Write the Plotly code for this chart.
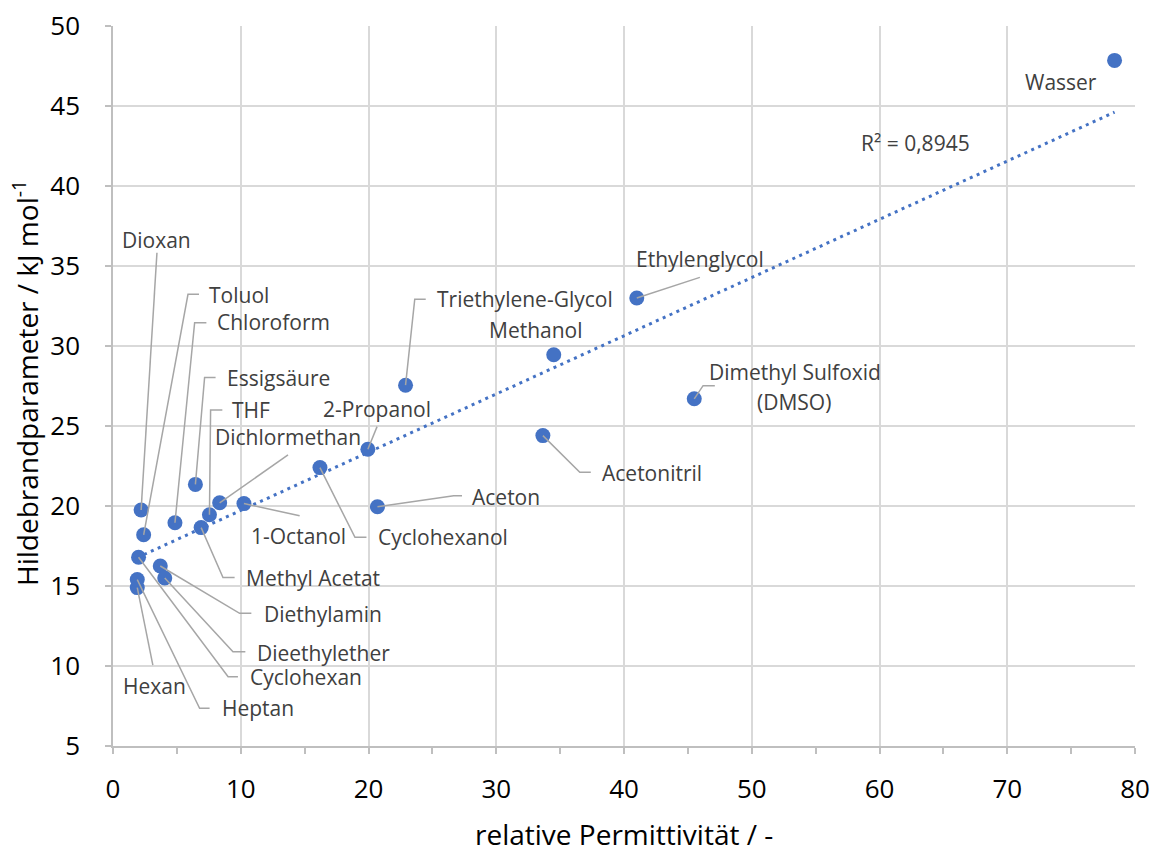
import numpy as np
import plotly.graph_objects as go

# ---- data ----
solvents = ["Dioxan", "Toluol", "Chloroform", "Essigsäure", "THF", "Dichlormethan",
            "1-Octanol", "Methyl Acetat", "Diethylamin", "Dieethylether", "Cyclohexan",
            "Hexan", "Heptan", "2-Propanol", "Cyclohexanol", "Aceton",
            "Triethylene-Glycol", "Methanol", "Ethylenglycol", "Dimethyl Sulfoxid",
            "Acetonitril", "Wasser"]
permittivity = [2.2, 2.4, 4.85, 6.45, 7.55, 8.35,
                10.25, 6.9, 3.7, 4.05, 2.0,
                1.9, 1.9, 19.95, 16.2, 20.7,
                22.9, 34.5, 41.0, 45.5,
                33.65, 78.4]
hildebrand = [19.75, 18.2, 18.95, 21.35, 19.45, 20.2,
              20.15, 18.65, 16.25, 15.5, 16.8,
              14.9, 15.4, 23.55, 22.4, 19.95,
              27.55, 29.45, 33.0, 26.7,
              24.4, 47.85]
r2_text = "R² = 0,8945"
x_title = "relative Permittivität / -"
y_title = "Hildebrandparameter / kJ mol<sup>-1</sup>"

# ---- label placement (text position, anchor, leader-line bend points) ----
label_layout = {
    "Dioxan":            dict(tx=3.41, ty=36.62, anchor="center", path=[(3.44, 35.83)]),
    "Toluol":            dict(tx=7.33, ty=33.2, anchor="left", path=[(5.87, 33.23), (6.73, 33.23)]),
    "Chloroform":        dict(tx=7.96, ty=31.48, anchor="left", path=[(6.39, 31.46), (7.31, 31.46)]),
    "Essigsäure":        dict(tx=8.74, ty=28.0, anchor="left", path=[(7.17, 28.03), (8.03, 28.03)]),
    "THF":               dict(tx=9.13, ty=26.0, anchor="left", path=[(7.64, 26.0), (8.56, 26.0)]),
    "Dichlormethan":     dict(tx=13.67, ty=24.33, anchor="center", path=[(13.70, 23.19)]),
    "1-Octanol":         dict(tx=14.53, ty=18.12, anchor="center", path=[(14.61, 19.39)]),
    "Methyl Acetat":     dict(tx=10.25, ty=15.48, anchor="left", path=[(8.61, 15.53), (9.52, 15.53)]),
    "Diethylamin":       dict(tx=11.66, ty=13.23, anchor="left", path=[(9.91, 13.29), (10.83, 13.29)]),
    "Dieethylether":     dict(tx=11.09, ty=10.79, anchor="left", path=[(9.39, 10.89), (10.36, 10.89)]),
    "Cyclohexan":        dict(tx=10.56, ty=9.33, anchor="left", path=[(9.01, 9.33), (9.78, 9.33)]),
    "Hexan":             dict(tx=3.22, ty=8.75, anchor="center", path=[(3.12, 10.06)]),
    "Heptan":            dict(tx=8.35, ty=7.36, anchor="left", path=[(6.78, 7.36), (7.56, 7.36)]),
    "2-Propanol":        dict(tx=20.64, ty=26.04, anchor="center", path=[(20.67, 24.96)]),
    "Cyclohexanol":      dict(tx=20.56, ty=18.04, anchor="left", path=[(18.94, 18.04), (19.84, 18.04)]),
    "Aceton":            dict(tx=27.98, ty=20.58, anchor="left", path=[(26.67, 20.64), (27.32, 20.64)]),
    "Triethylene-Glycol": dict(tx=25.18, ty=32.92, anchor="left", path=[(23.62, 32.92), (24.48, 32.92)]),
    "Methanol":          dict(tx=33.12, ty=31.0, anchor="center", path=[]),
    "Ethylenglycol":     dict(tx=45.94, ty=35.42, anchor="center", path=[(45.94, 34.29)]),
    "Dimethyl Sulfoxid": dict(tx=53.42, ty=28.39, anchor="center", path=[(46.19, 27.52), (47.11, 27.52)]),
    "Acetonitril":       dict(tx=38.11, ty=22.04, anchor="left", path=[(36.54, 22.11), (37.40, 22.11)]),
    "Wasser":            dict(tx=74.17, ty=46.52, anchor="center", path=[]),
}
extra_labels = [("(DMSO)", 53.30, 26.5, "center"), (r2_text, 62.85, 42.67, "center")]

BLUE = "#4472C4"
GRID = "#d9d9d9"
LEADER = "#a6a6a6"
TEXT = "#404040"
FONT = "Open Sans"
LABEL_SIZE = 21

fig = go.Figure()

# data points
fig.add_trace(go.Scatter(x=permittivity, y=hildebrand, mode="markers",
                         marker=dict(color=BLUE, size=15, line=dict(width=0)),
                         hovertext=solvents, showlegend=False))

# linear trendline
slope, intercept = np.polyfit(permittivity, hildebrand, 1)
xf = np.array([min(permittivity), max(permittivity)])
fig.add_trace(go.Scatter(x=xf, y=slope * xf + intercept, mode="lines",
                         line=dict(color=BLUE, width=3, dash="3px,4.5px"),
                         showlegend=False, hoverinfo="skip"))

# leader lines
lx, ly = [], []
for name, px, py in zip(solvents, permittivity, hildebrand):
    path = label_layout[name]["path"]
    if not path:
        continue
    lx.append(px); ly.append(py)
    for (a, b) in path:
        lx.append(a); ly.append(b)
    lx.append(None); ly.append(None)
fig.add_trace(go.Scatter(x=lx, y=ly, mode="lines",
                         line=dict(color=LEADER, width=1.5),
                         showlegend=False, hoverinfo="skip"))

annotations = []
for name in solvents:
    L = label_layout[name]
    annotations.append(dict(x=L["tx"], y=L["ty"], text=name, showarrow=False,
                            xanchor=L["anchor"], yanchor="middle",
                            font=dict(family=FONT, size=LABEL_SIZE, color=TEXT)))
for text, tx, ty, anc in extra_labels:
    annotations.append(dict(x=tx, y=ty, text=text, showarrow=False,
                            xanchor=anc, yanchor="middle",
                            font=dict(family=FONT, size=LABEL_SIZE, color=TEXT)))

# axis titles
annotations.append(dict(x=0.5, y=0, xref="paper", yref="paper", text=x_title,
                        showarrow=False, xanchor="center", yanchor="middle", yshift=-88,
                        font=dict(family=FONT, size=28, color="#000000")))
annotations.append(dict(x=0, y=0.5, xref="paper", yref="paper", text=y_title,
                        showarrow=False, textangle=-90, xanchor="center", yanchor="middle",
                        xshift=-88, yshift=3,
                        font=dict(family=FONT, size=28, color="#000000")))

fig.update_layout(
    width=1154, height=847,
    margin=dict(l=113, r=19, t=26, b=101),
    paper_bgcolor="white", plot_bgcolor="white",
    annotations=annotations,
    font=dict(family=FONT, color="#000000"),
    xaxis=dict(range=[0, 80], dtick=10, tick0=0, showgrid=True, gridcolor=GRID, gridwidth=1.5,
               zeroline=False, showline=True, linecolor="#bfbfbf", linewidth=1.5,
               ticks="outside", ticklen=6, tickcolor="#bfbfbf", tickwidth=1.5,
               minor=dict(dtick=5, tick0=0, ticks="outside", ticklen=6, tickcolor="#bfbfbf",
                          tickwidth=1.5, showgrid=False),
               tickfont=dict(family=FONT, size=26, color="#000000"),
               ticklabelstandoff=13, automargin=False, ticklabeloverflow="allow"),
    yaxis=dict(range=[5, 50], dtick=5, tick0=5, showgrid=True, gridcolor=GRID, gridwidth=1.5,
               zeroline=False, showline=True, linecolor="#bfbfbf", linewidth=1.5,
               ticks="outside", ticklen=6, tickcolor="#bfbfbf", tickwidth=1.5,
               tickfont=dict(family=FONT, size=26, color="#000000"),
               ticklabelstandoff=20, automargin=False, ticklabeloverflow="allow"),
)

# remove the default page margin so the figure fills the window exactly
fig.write_html("out.html",
               config={"displayModeBar": False},
               post_script="document.body.style.margin='0';document.body.style.overflow='hidden';")
